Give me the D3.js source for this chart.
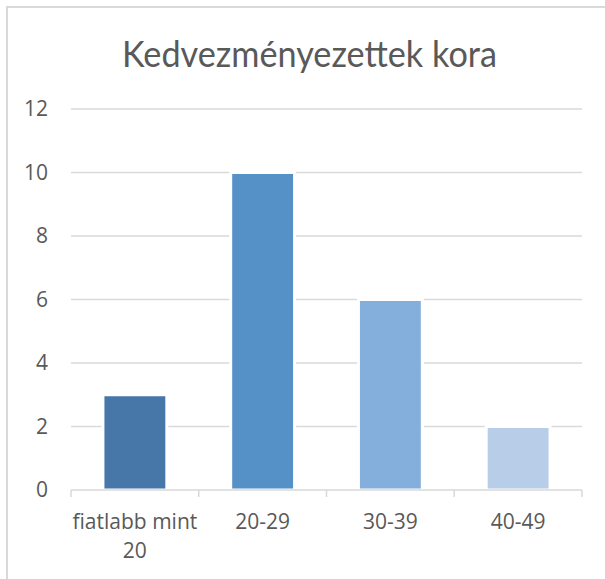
<!DOCTYPE html>
<html>
<head>
<meta charset="utf-8">
<script src="https://cdn.jsdelivr.net/npm/d3@7"></script>
<style>
  body { margin: 0; background: #fff; }
  svg { display: block; }
</style>
</head>
<body>
<svg id="chart"></svg>
<script>
// data
var categories = ["fiatlabb mint 20", "20-29", "30-39", "40-49"];
var values = [3, 10, 6, 2];
var barColors = ["#4677a8", "#5591c7", "#84aedb", "#b8cee8"];
var yTicks = [0, 2, 4, 6, 8, 10, 12];
var titleText = "Kedvezményezettek kora";

var W = 605, H = 579;
var margin = {top: 109, right: 23, bottom: 89, left: 71},
    width = W - margin.left - margin.right,
    height = H - margin.top - margin.bottom;

var labelFont = "'Open Sans', 'Liberation Sans', sans-serif";

var root = d3.select("#chart")
    .attr("width", W)
    .attr("height", H);

// chart border
root.append("rect")
  .attr("x", 7).attr("y", 7)
  .attr("width", W + 20).attr("height", H + 20)
  .attr("fill", "none")
  .attr("stroke", "#d9d9d9")
  .attr("stroke-width", 2);

// title
root.append("text")
  .attr("x", 122)
  .attr("y", 67)
  .attr("font-family", "Lato, 'Open Sans', sans-serif")
  .attr("font-size", 37)
  .attr("fill", "#595959")
  .attr("textLength", 375)
  .attr("lengthAdjust", "spacingAndGlyphs")
  .text(titleText);

var svg = root.append("g")
    .attr("transform", "translate(" + margin.left + "," + margin.top + ")");

var x = d3.scaleBand()
  .domain(categories)
  .range([0, width])
  .paddingInner(0.5)
  .paddingOuter(0.25);

var y = d3.scaleLinear()
  .domain([0, 12])
  .range([height, 0]);

// gridlines
svg.append("g")
  .selectAll("line")
  .data(yTicks.filter(function(d) { return d > 0; }))
  .enter().append("line")
    .attr("x1", 0).attr("x2", width)
    .attr("y1", function(d) { return y(d); })
    .attr("y2", function(d) { return y(d); })
    .attr("stroke", "#d9d9d9")
    .attr("stroke-width", 1.5);

// y axis labels
var yAxis = svg.append("g")
  .call(d3.axisLeft(y).tickValues(yTicks).tickSize(0).tickPadding(23));
yAxis.select(".domain").remove();
yAxis.selectAll("text")
  .attr("font-family", labelFont)
  .attr("font-size", 21)
  .attr("fill", "#595959");

// bars
svg.selectAll("rect.bar")
  .data(values)
  .enter().append("rect")
    .attr("class", "bar")
    .attr("x", function(d, i) { return x(categories[i]); })
    .attr("y", function(d) { return y(d); })
    .attr("width", x.bandwidth())
    .attr("height", function(d) { return height - y(d); })
    .attr("fill", function(d, i) { return barColors[i]; })
    .attr("stroke", "#fff")
    .attr("stroke-width", 3);

// x axis: baseline and category boundary ticks
var xAxis = svg.append("g")
  .attr("transform", "translate(0," + height + ")");
xAxis.append("line")
  .attr("x1", 0).attr("x2", width)
  .attr("y1", 0).attr("y2", 0)
  .attr("stroke", "#d9d9d9")
  .attr("stroke-width", 1.5);
var bounds = categories.map(function(c) { return x(c) - x.step() * x.paddingInner() / 2; });
bounds.push(width);
xAxis.selectAll("line.tk")
  .data(bounds)
  .enter().append("line")
    .attr("class", "tk")
    .attr("x1", function(d) { return d; })
    .attr("x2", function(d) { return d; })
    .attr("y1", 0).attr("y2", 7)
    .attr("stroke", "#d9d9d9")
    .attr("stroke-width", 1.5);

// category labels, wrapped like the original
var labelLines = [["fiatlabb mint", "20"], ["20-29"], ["30-39"], ["40-49"]];
var lbl = xAxis.selectAll("text.cat")
  .data(categories)
  .enter().append("text")
    .attr("class", "cat")
    .attr("text-anchor", "middle")
    .attr("font-family", labelFont)
    .attr("font-size", 21)
    .attr("fill", "#595959");
lbl.each(function(c, i) {
  var t = d3.select(this);
  labelLines[i].forEach(function(s, j) {
    t.append("tspan")
      .attr("x", x(c) + x.bandwidth() / 2)
      .attr("y", 39 + j * 29)
      .text(s);
  });
});
</script>
</body>
</html>
